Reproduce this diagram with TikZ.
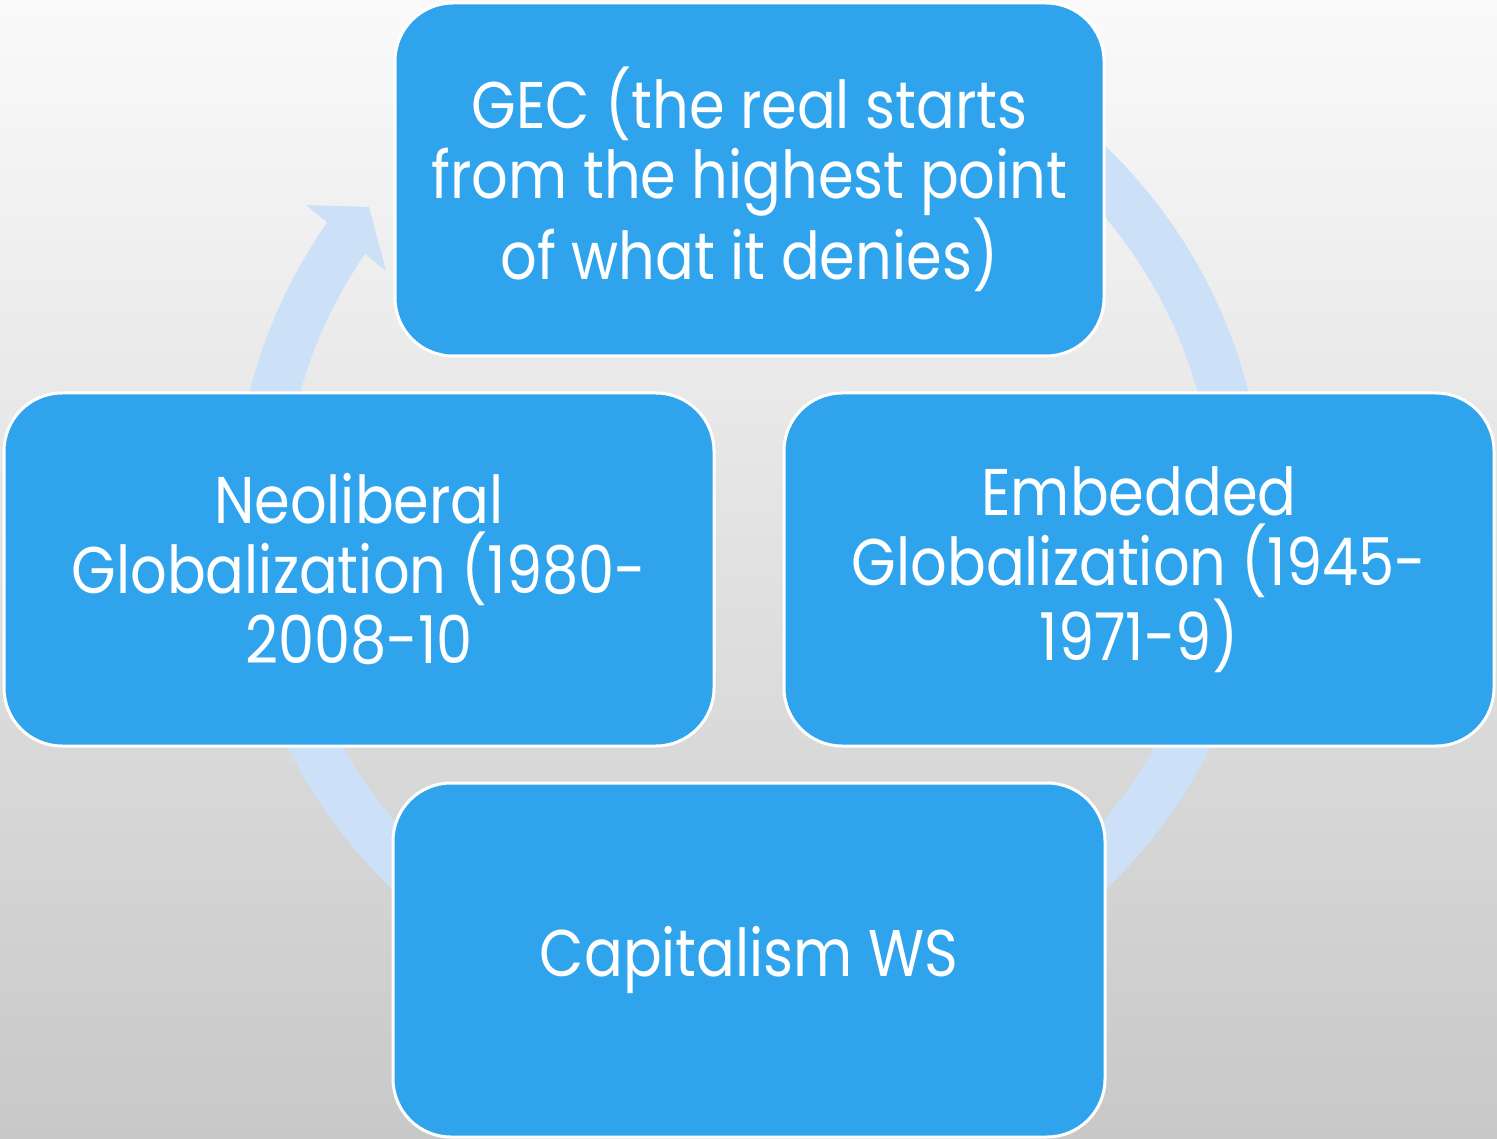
\documentclass[tikz,border=0pt]{standalone}
\usepackage{fontspec}
\setmainfont[FakeStretch=0.87]{Poppins}
\usetikzlibrary{calc}
\definecolor{boxblue}{RGB}{47,163,236}
\definecolor{ringblue}{RGB}{204,224,247}
\definecolor{bgtop}{RGB}{250,250,250}
\definecolor{bgmid}{RGB}{238,238,238}
\definecolor{bgbot}{RGB}{200,200,200}
\begin{document}
\begin{tikzpicture}[x=1pt,y=-1pt,
  stagebox/.style={draw=white, line width=3pt, fill=boxblue, rounded corners=58pt,
    text=white, align=center, inner sep=0pt,
    font=\fontsize{66}{70}\selectfont},
  ring/.style={fill=ringblue}]
\useasboundingbox (0,0) rectangle (1497,1139);
\shade[top color=bgtop, middle color=bgmid, bottom color=bgbot] (0,0) rectangle (1497,1139);
\coordinate (c) at (749,518);
% circular arrow
\fill[ring] ($(c)+(-128:515)$) arc[start angle=-128,end angle=216,radius=515]
  -- ($(c)+(216:466)$) arc[start angle=216,end angle=-128,radius=466] -- cycle;
\coordinate (hl) at (306,205);
\coordinate (ht) at (369,207);
\coordinate (hr) at (386,271);
\fill[ring] (hl) -- (ht) -- (hr) -- cycle;
% stages
\node[stagebox, minimum width=709pt, minimum height=353pt] (gec) at (749.5,179.5)
  {GEC (the real starts\\from the highest point\\of what it denies)};
\node[stagebox, minimum width=710pt, minimum height=353pt] (neo) at (359,569.5)
  {Neoliberal\\Globalization (1980-\\2008-10};
\node[stagebox, minimum width=710pt, minimum height=353pt] (emb) at (1139,569.5)
  {Embedded\\Globalization (1945-\\1971-9)};
\node[stagebox, minimum width=712pt, minimum height=354pt] (cap) at (749,960)
  {Capitalism WS};
\end{tikzpicture}
\end{document}
